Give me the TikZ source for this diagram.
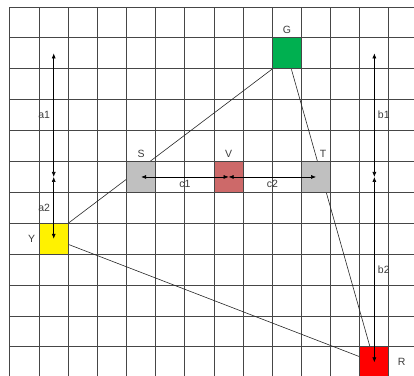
\documentclass[tikz,border=0pt]{standalone}
\usepackage{fontspec}
\setmainfont{Liberation Sans}
\usetikzlibrary{arrows.meta,backgrounds}
\definecolor{gridgray}{RGB}{70,70,70}
\definecolor{sqgreen}{RGB}{0,176,80}
\definecolor{sqrose}{RGB}{205,105,105}
\definecolor{sqgray}{RGB}{192,192,192}
\definecolor{txtgray}{RGB}{60,60,60}
\tikzset{
  sq/.style={draw=gridgray,line width=1pt,minimum width=29.15pt,minimum height=30.9pt,
             inner sep=0pt,label distance=8pt},
  gridline/.style={gridgray,line width=1pt},
  link/.style={black!85,line width=0.6pt},
  dim/.style={{Latex[length=5pt,width=4pt]}-{Latex[length=5pt,width=4pt]},line width=0.6pt},
  tag/.style={text=txtgray}
}

\begin{document}
\begin{tikzpicture}[x=29.15pt,y=-30.9pt,font=\fontsize{10.5}{12}\selectfont,
    every label/.style={text=txtgray}]
  \useasboundingbox (-0.343,-0.227) rectangle (13.86,11.94);
  % cells
  \node[sq,fill=sqgreen,label=above:G] (G) at (9.5,1.5) {};
  \node[sq,fill=sqgray,label=above:S] (S) at (4.5,5.5) {};
  \node[sq,fill=sqrose,label=above:V] (V) at (7.5,5.5) {};
  \node[sq,fill=sqgray,label={[xshift=7pt]above:T}] (T) at (10.5,5.5) {};
  \node[sq,fill=yellow,label=left:Y] (Y) at (1.5,7.5) {};
  \node[sq,fill=red,label={[label distance=5pt]right:R}] (R) at (12.5,11.5) {};
  \begin{scope}[on background layer]
    % grid
    \foreach \i in {0,...,13} \draw[gridline] (\i,0) -- (\i,11.94);
    \foreach \j in {0,...,11} \draw[gridline] (0,\j) -- (13.86,\j);
    % links
    \draw[link] (Y.north east) -- (G.south west);
    \draw[link] (G) -- (R);
    \draw[link] (Y) -- (R);
  \end{scope}
  % distances
  \coordinate (a) at (1.5,5.5);
  \coordinate (a0) at (1.5,1.5);
  \coordinate (b) at (12.5,5.5);
  \coordinate (b0) at (12.5,1.5);
  \draw[dim] (a) -- node[left,tag] {a1} (a0);
  \draw[dim] (a) -- node[left,tag] {a2} (Y.center);
  \draw[dim] (b) -- node[right,tag] {b1} (b0);
  \draw[dim] (b) -- node[right,tag] {b2} (R.center);
  \draw[dim] (V.center) -- node[below,tag] {c1} (S.center);
  \draw[dim] (V.center) -- node[below,tag] {c2} (T.center);
\end{tikzpicture}
\end{document}
